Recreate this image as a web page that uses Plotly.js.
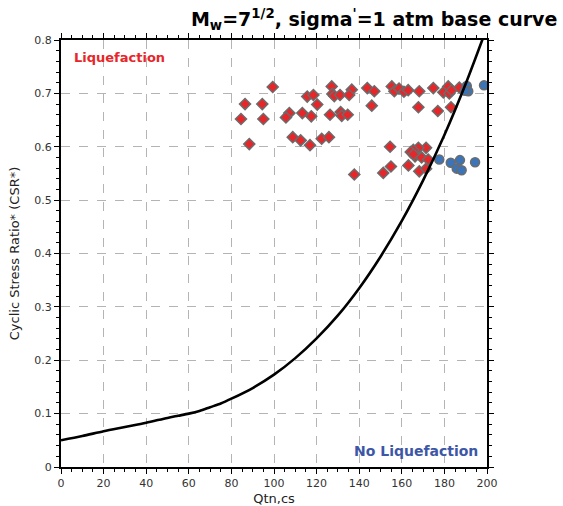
<!DOCTYPE html>
<html>
<head>
<meta charset="utf-8">
<script src="https://cdn.plot.ly/plotly-3.0.1.min.js"></script>
<style>
  html, body { margin: 0; padding: 0; background: #fff; }
  #chart { width: 563px; height: 506px; }
</style>
</head>
<body>
<div id="chart"></div>
<script>
// Base curve (CSR* vs Qtn,cs)
const curveQ   = [0, 10, 20, 30, 40, 50, 55, 60, 65, 70, 75, 80, 90, 100, 110, 120, 130, 140, 150, 160, 170, 180, 190, 200];
const curveCSR = [0.050, 0.058, 0.067, 0.075, 0.083, 0.092, 0.096, 0.100, 0.105, 0.112, 0.119, 0.128, 0.148, 0.173, 0.204, 0.241, 0.284, 0.335, 0.394, 0.461, 0.537, 0.622, 0.718, 0.824];

// Liquefied points
const qtnLiq = [99.4, 86.4, 94.5, 84.5, 95.0, 107.2, 105.6, 113.3, 117.5, 115.6, 118.5, 120.3,
  127.1, 127.4, 128.3, 131.0, 136.5, 135.3, 126.3, 131.3, 131.8, 134.6, 143.8, 147.1, 145.9,
  155.3, 156.5, 158.7, 161.0, 163.0, 168.2, 174.8, 179.5, 181.8, 182.3, 183.4, 187.0,
  167.8, 176.9, 183.1, 88.4, 108.8, 112.5, 116.9, 122.4, 125.8, 154.5, 137.7, 151.3, 154.9,
  171.4, 167.8, 165.4, 164.2, 166.2, 169.3, 172.4, 163.1, 168.2, 171.4, 165.5];
const csrLiq = [0.712, 0.680, 0.680, 0.652, 0.652, 0.663, 0.655, 0.663, 0.657, 0.694, 0.697, 0.679,
  0.713, 0.699, 0.695, 0.697, 0.707, 0.697, 0.660, 0.665, 0.658, 0.660, 0.710, 0.704, 0.677,
  0.713, 0.704, 0.709, 0.703, 0.706, 0.704, 0.710, 0.702, 0.713, 0.700, 0.706, 0.711,
  0.674, 0.667, 0.674, 0.605, 0.618, 0.612, 0.603, 0.615, 0.618, 0.600, 0.548, 0.551, 0.563,
  0.598, 0.598, 0.594, 0.590, 0.582, 0.580, 0.576, 0.565, 0.554, 0.559, 0.586];

// Non-liquefied points
const qtnNonLiq = [190.5, 191.2, 189.7, 198.6, 177.6, 183.0, 187.3, 185.8, 188.1, 194.4];
const csrNonLiq = [0.714, 0.704, 0.705, 0.715, 0.576, 0.570, 0.575, 0.559, 0.556, 0.571];

// Axis ticks
const xTicks = [0, 20, 40, 60, 80, 100, 120, 140, 160, 180, 200];
const yTicks = [0, 0.1, 0.2, 0.3, 0.4, 0.5, 0.6, 0.7, 0.8];

const font = "DejaVu Sans, Verdana, sans-serif";

const traces = [
  {
    x: qtnLiq, y: csrLiq, type: 'scatter', mode: 'markers', cliponaxis: false,
    marker: { symbol: 'diamond', size: 8.5, color: '#e8262a', line: { color: '#6b6b6b', width: 1.5 } },
    hoverinfo: 'x+y'
  },
  {
    x: qtnNonLiq, y: csrNonLiq, type: 'scatter', mode: 'markers', cliponaxis: false,
    marker: { symbol: 'circle', size: 9, color: '#3b74b8', line: { color: '#6b6b6b', width: 1.5 } },
    hoverinfo: 'x+y'
  },
  {
    x: curveQ, y: curveCSR, type: 'scatter', mode: 'lines',
    line: { color: '#000', width: 2.6, shape: 'spline', smoothing: 0.8 },
    hoverinfo: 'x+y'
  }
];

const axisCommon = {
  showline: true, linecolor: '#000', linewidth: 2, mirror: 'allticks',
  ticks: 'outside', ticklen: 5, tickwidth: 1, tickcolor: '#000',
  showgrid: true, gridcolor: '#b4b4b4', griddash: 'dash', gridwidth: 1,
  zeroline: false,
  tickfont: { family: font, size: 11, color: '#333' }
};

const layout = {
  width: 563, height: 506,
  margin: { l: 61, r: 76, t: 40, b: 39 },
  paper_bgcolor: '#fff', plot_bgcolor: '#fff',
  showlegend: false,
  title: {
    text: "M<sub>w</sub>=7<sup>1/2</sup>, sigma<sup>'</sup>=1 atm base curve",
    font: { family: font, size: 19, color: '#000', weight: 'bold' },
    x: 0.99, xanchor: 'right', xref: 'container',
    y: 0.962, yanchor: 'middle', yref: 'container'
  },
  xaxis: Object.assign({}, axisCommon, {
    range: [0, 200], tickvals: xTicks, ticktext: xTicks.map(String),
    minor: { dtick: 5, ticklen: 3, tickcolor: '#000', ticks: 'outside', showgrid: false },
    title: { text: 'Qtn,cs', font: { family: font, size: 13, color: '#222' }, standoff: 6 }
  }),
  yaxis: Object.assign({}, axisCommon, {
    range: [0, 0.8], tickvals: yTicks, ticktext: yTicks.map(String),
    minor: { dtick: 0.02, ticklen: 3, tickcolor: '#000', ticks: 'outside', showgrid: false },
    title: { text: 'Cyclic Stress Ratio* (CSR*)', font: { family: font, size: 13, color: '#222' }, standoff: 12 }
  }),
  annotations: [
    {
      text: 'Liquefaction', xref: 'paper', yref: 'paper', x: 0.026, y: 0.96,
      xanchor: 'left', yanchor: 'middle', showarrow: false,
      font: { family: font, size: 13, color: '#e8262a', weight: 'bold' }
    },
    {
      text: 'No Liquefaction', xref: 'paper', yref: 'paper', x: 0.984, y: 0.038,
      xanchor: 'right', yanchor: 'middle', showarrow: false,
      font: { family: font, size: 14, color: '#3d57a6', weight: 'bold' }
    }
  ]
};

Plotly.newPlot('chart', traces, layout, { displayModeBar: false, staticPlot: true });
</script>
</body>
</html>
